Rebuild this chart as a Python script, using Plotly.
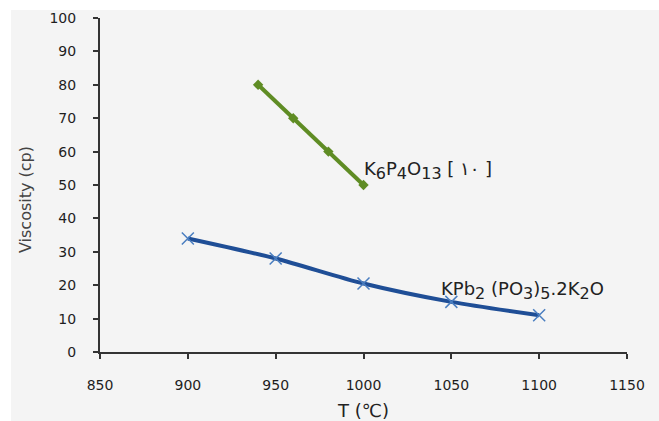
import plotly.graph_objects as go

green_T = [940, 960, 980, 1000]
green_visc = [80, 70, 60, 50]
blue_T = [900, 950, 1000, 1050, 1100]
blue_visc = [34, 28, 20.5, 15, 11]
x_ticks = [850, 900, 950, 1000, 1050, 1100, 1150]
y_ticks = [0, 10, 20, 30, 40, 50, 60, 70, 80, 90, 100]

fig = go.Figure()
fig.add_trace(go.Scatter(
    x=green_T, y=green_visc, mode="lines+markers",
    line=dict(color="#5f8c24", width=4),
    marker=dict(symbol="diamond", size=8, color="#5f8c24"),
    showlegend=False))
fig.add_trace(go.Scatter(
    x=blue_T, y=blue_visc, mode="lines+markers",
    line=dict(color="#1f4e96", width=4, shape="spline", smoothing=0.8),
    marker=dict(symbol="x-thin", size=12, line=dict(color="#4a7ec0", width=1.5)),
    showlegend=False))


def sub(s):
    return '<sub><span style="font-size:16px">' + s + '</span></sub>'


fig.add_annotation(x=999, y=54.3, xref="x", yref="y", xanchor="left", yanchor="middle",
                   text="K" + sub("6") + "P" + sub("4") + "O" + sub("13") + " [ ١٠ ]", showarrow=False,
                   font=dict(family="DejaVu Sans", size=18, color="#222"))
fig.add_annotation(x=1043, y=18.3, xref="x", yref="y", xanchor="left", yanchor="middle",
                   text="KPb" + sub("2") + " (PO" + sub("3") + ")" + sub("5") + ".2K" + sub("2") + "O",
                   showarrow=False,
                   font=dict(family="DejaVu Sans", size=18, color="#222"))

# y-axis title
fig.add_annotation(x=-75 / 527, y=(352 - 200) / 334, xref="paper", yref="paper",
                   xanchor="center", yanchor="middle", textangle=-90, showarrow=False,
                   text="Viscosity (cp)", font=dict(family="DejaVu Sans", size=16, color="#444"))

# white strips at top and left of picture
fig.add_shape(type="rect", xref="paper", yref="paper", x0=-0.2, x1=1.2, y0=1.024, y1=1.06,
              fillcolor="white", line=dict(width=0))
fig.add_shape(type="rect", xref="paper", yref="paper", x0=-0.2, x1=-0.1689, y0=-0.3, y1=1.06,
              fillcolor="white", line=dict(width=0))

fig.update_layout(
    width=659, height=421,
    margin=dict(l=100, r=32, t=18, b=69, autoexpand=False),
    paper_bgcolor="#f4f4f4", plot_bgcolor="#f4f4f4",
    font=dict(family="DejaVu Sans", color="#333"),
)
fig.update_xaxes(range=[850, 1150], tickvals=x_ticks, ticks="outside", ticklen=5, tickwidth=2,
                 tickcolor="#333", showline=True, linecolor="#333", linewidth=2, showgrid=False,
                 zeroline=False, tickfont=dict(size=14, color="#1e1e1e", weight=500),
                 ticklabelstandoff=14, automargin=False,
                 title=dict(text="T (℃)", font=dict(size=18, color="#222"), standoff=13))
fig.update_yaxes(range=[0, 100], tickvals=y_ticks, ticks="outside", ticklen=5, tickwidth=2,
                 tickcolor="#333", showline=True, linecolor="#333", linewidth=2, showgrid=False,
                 zeroline=False, tickfont=dict(size=14, color="#1e1e1e", weight=500),
                 ticklabelstandoff=14, automargin=False)

fig.write_html("out.html")
